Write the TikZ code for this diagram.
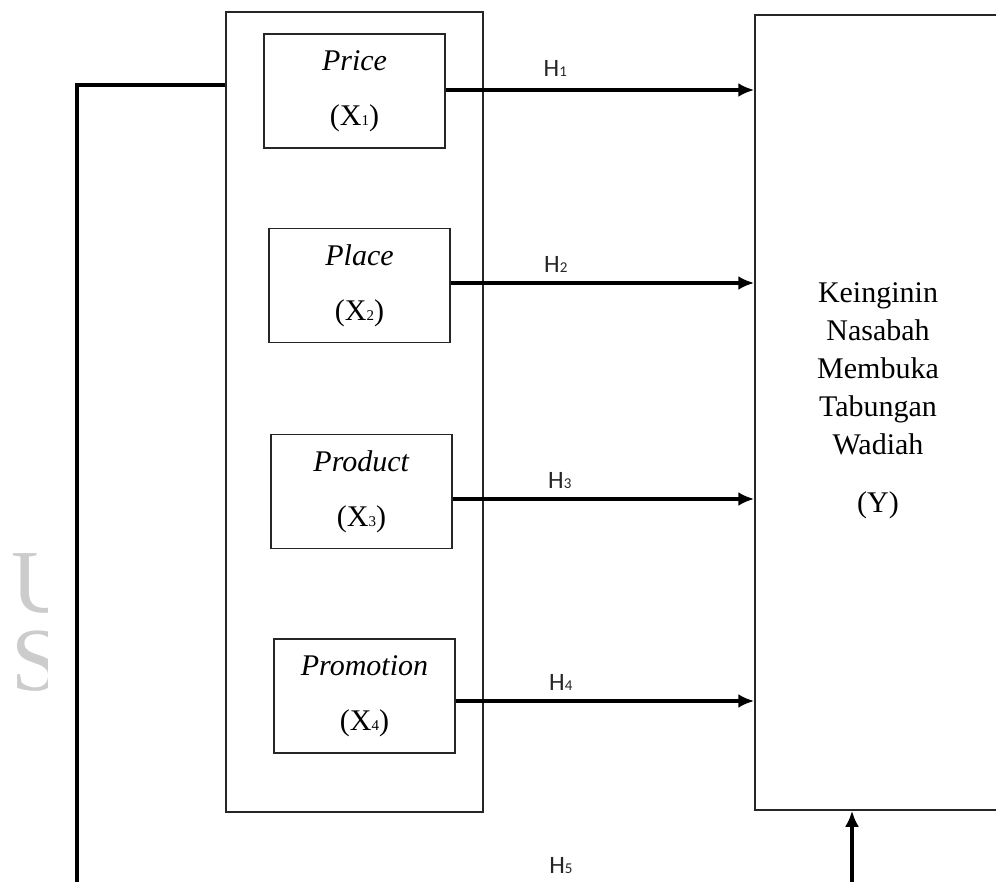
\documentclass[tikz,border=0pt]{standalone}
\usepackage{fontspec}
\setmainfont{Liberation Serif}
\newfontfamily\hfont{Carlito}
\usetikzlibrary{arrows.meta}
\begin{document}
\begin{tikzpicture}[x=1pt,y=-1pt,
  frame/.style={draw=black!85,line width=1.5pt,inner sep=0pt},
  varbox/.style={frame,minimum width=181pt,minimum height=114pt,align=center,
    font=\fontsize{30}{55}\selectfont},
  conn/.style={line width=3.2pt,-{Latex[length=16pt,width=14pt]}},
  fbline/.style={line width=3.2pt},
  hlab/.style={font=\hfont\fontsize{25}{25}\selectfont,inner sep=0pt,text=black!85},
  ytext/.style={align=center,font=\fontsize{30}{38}\selectfont,inner sep=0pt},
  wmark/.style={text=black!20,font=\fontsize{90}{78}\selectfont,inner sep=0pt,align=left}]
\newcommand{\sbs}[1]{{\fontsize{15}{15}\selectfont #1}}
\useasboundingbox (0,0) rectangle (996,882);
\clip (0,0) rectangle (996,882);
% watermark fragment
\begin{scope}
\clip (0,500) rectangle (47,720);
\node[wmark,anchor=base west] (wm) at (11,690) {U\\S};
\end{scope}
% outer group box
\node[frame,minimum width=257pt,minimum height=800pt] (grp) at (354.5,412) {};
% variable boxes
\node[varbox] (price) at (354.5,91) {\textit{Price}\\(X\sbs{1})};
\node[varbox] (place) at (359.5,285.5) {\textit{Place}\\(X\sbs{2})};
\node[varbox] (product) at (361.5,491.5) {\textit{Product}\\(X\sbs{3})};
\node[varbox] (promo) at (364.5,696) {\textit{Promotion}\\(X\sbs{4})};
% dependent variable box
\node[frame,minimum width=246pt,minimum height=795pt] (ybox) at (878,412.5) {};
\node[ytext] (ytxt) at (878,401) {Keinginin\\Nasabah\\Membuka\\Tabungan\\Wadiah\\[20pt](Y)};
% connectors
\path ([yshift=1pt]price.east) coordinate (s1);
\path ([yshift=2.5pt]place.east) coordinate (s2);
\path ([yshift=-7.5pt]product.east) coordinate (s3);
\path ([yshift=-5pt]promo.east) coordinate (s4);
\draw[conn] (s1) -- (s1 -| ybox.west) node[hlab,pos=0.355,above=12pt] {H\sbs{1}};
\draw[conn] (s2) -- (s2 -| ybox.west) node[hlab,pos=0.346,above=9pt] {H\sbs{2}};
\draw[conn] (s3) -- (s3 -| ybox.west) node[hlab,pos=0.355,above=9pt] {H\sbs{3}};
\draw[conn] (s4) -- (s4 -| ybox.west) node[hlab,pos=0.352,above=9pt] {H\sbs{4}};
% feedback path H5
\coordinate (fa) at (77,85);
\coordinate (fb) at (77,884);
\coordinate (h5s) at (852,884);
\draw[fbline] (grp.west |- fa) -- (fa) -- (fb);
\draw[conn] (h5s) -- (h5s |- ybox.south);
\node[hlab] (h5) at (561,866) {H\sbs{5}};
\end{tikzpicture}
\end{document}
